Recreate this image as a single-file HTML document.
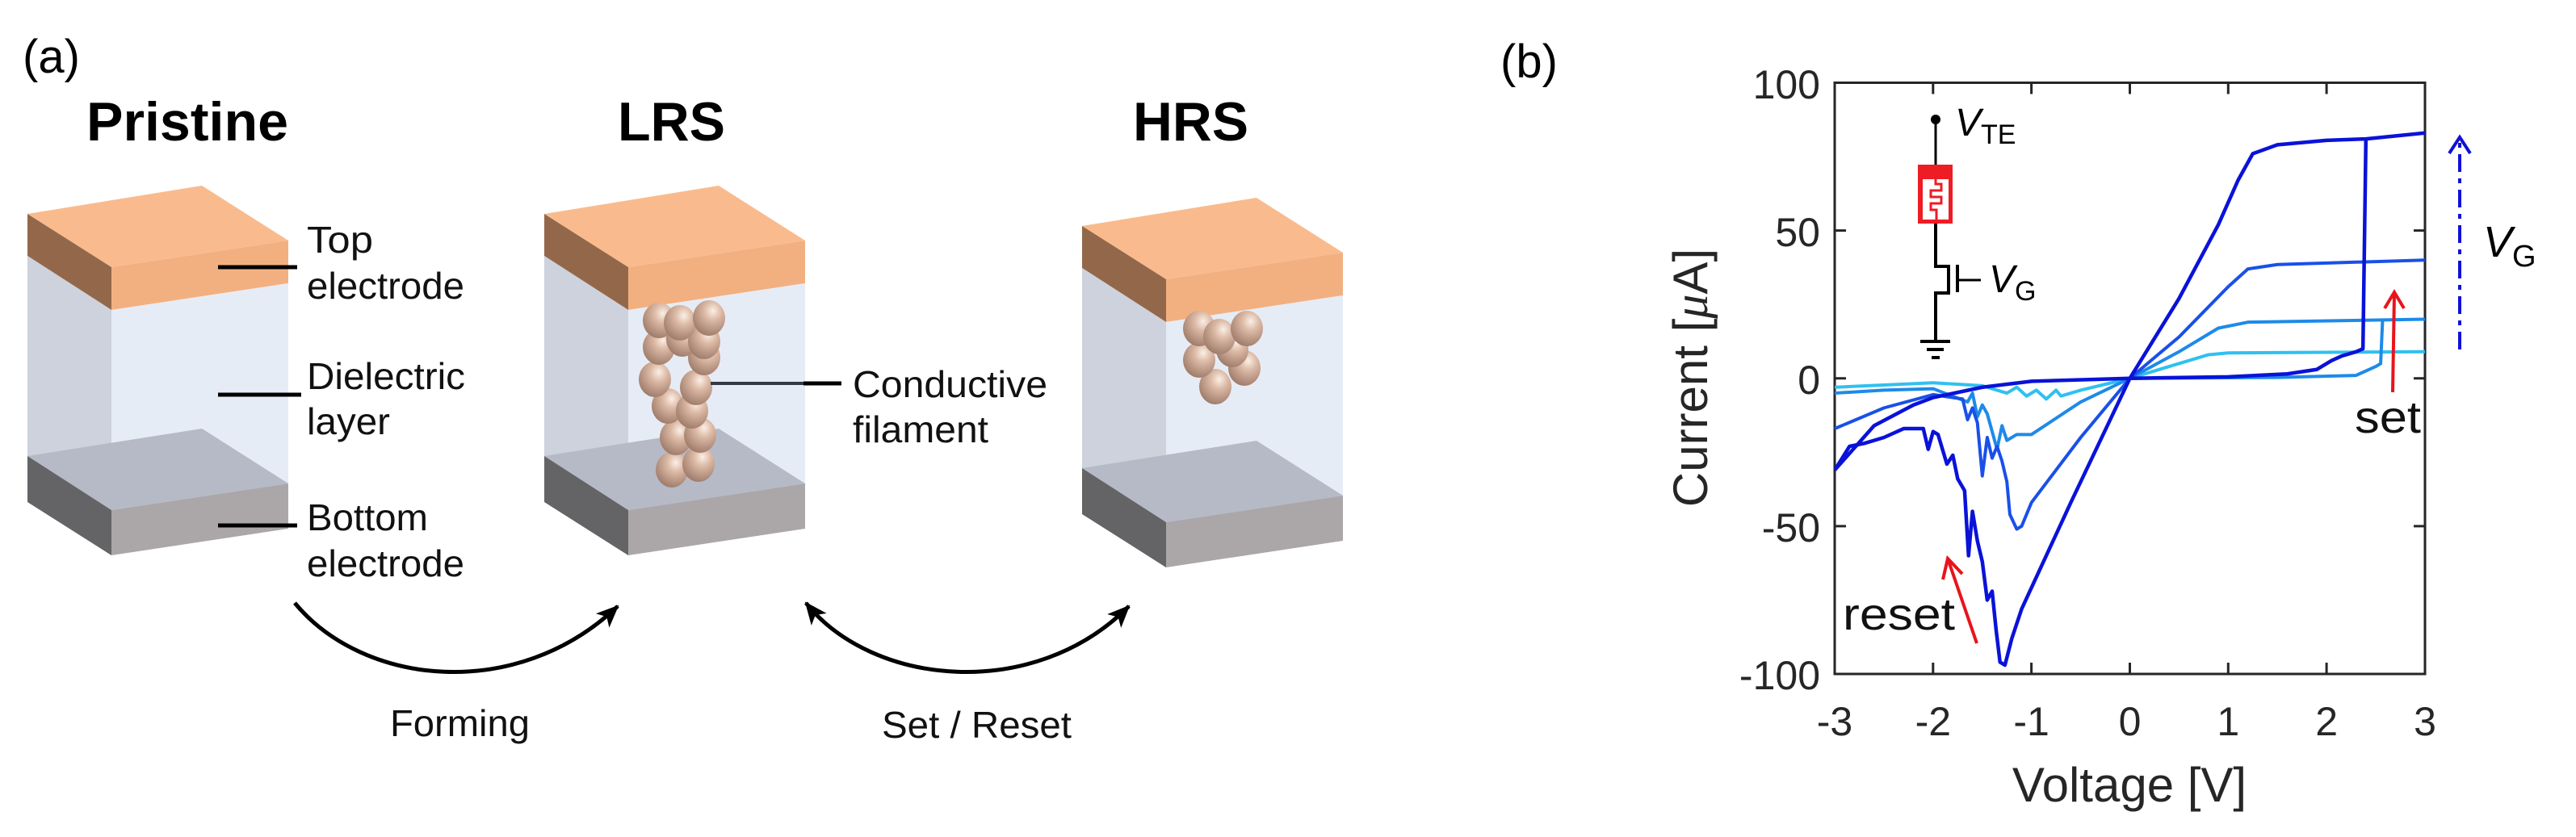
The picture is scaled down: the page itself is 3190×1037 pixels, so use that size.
<!DOCTYPE html>
<html><head><meta charset="utf-8"><style>html,body{margin:0;padding:0;background:#fff}svg{display:block}</style></head>
<body>
<svg width="3190" height="1037" viewBox="0 0 3190 1037" xmlns="http://www.w3.org/2000/svg" font-family="Liberation Sans, sans-serif">
<defs>
<radialGradient id="sp" cx="0.62" cy="0.3" r="0.75">
<stop offset="0" stop-color="#fbefe6"/><stop offset="0.35" stop-color="#dcbaa6"/><stop offset="1" stop-color="#9c7866"/>
</radialGradient>
<g id="blk">
<polygon points="34,265 250,230 357,298 138,331" fill="#f9bb8d"/>
<polygon points="138,331 357,298 357,351 138,384" fill="#f2b081"/>
<polygon points="34,265 138,331 138,384 34,317" fill="#93684a"/>
<polygon points="34,317 138,384 138,632 34,565" fill="#cdd2dc"/>
<polygon points="138,384 357,351 357,599 138,632" fill="#e6ecf6"/>
<polygon points="34,565 250,531 357,599 138,632" fill="#b5bac6"/>
<polygon points="34,565 138,632 138,688 34,622" fill="#646366"/>
<polygon points="138,632 357,599 357,655 138,688" fill="#aba7a9"/>
</g>
<marker id="ahb" markerWidth="30" markerHeight="30" refX="26" refY="15" orient="auto-start-reverse" markerUnits="userSpaceOnUse" viewBox="0 0 30 30"><path d="M0,3 L28,15 L0,27 L7,15 z" fill="#000"/></marker>
</defs>

<text x="28" y="90" font-size="58">(a)</text>
<text x="107" y="174" font-size="68" font-weight="bold" textLength="250" lengthAdjust="spacingAndGlyphs">Pristine</text>
<text x="765" y="174" font-size="68" font-weight="bold" textLength="133" lengthAdjust="spacingAndGlyphs">LRS</text>
<text x="1403" y="174" font-size="68" font-weight="bold" textLength="143" lengthAdjust="spacingAndGlyphs">HRS</text>

<use href="#blk"/>
<use href="#blk" transform="translate(640,0)"/>
<use href="#blk" transform="translate(1306,15)"/>

<g fill="url(#sp)">
<ellipse cx="832" cy="582" rx="20" ry="22"/><ellipse cx="865" cy="575" rx="20" ry="22"/>
<ellipse cx="837" cy="542" rx="20" ry="22"/><ellipse cx="867" cy="539" rx="20" ry="22"/>
<ellipse cx="827" cy="503" rx="20" ry="22"/><ellipse cx="857" cy="509" rx="20" ry="22"/>
<ellipse cx="811" cy="470" rx="20" ry="22"/><ellipse cx="862" cy="480" rx="20" ry="22"/>
<ellipse cx="816" cy="430" rx="20" ry="22"/><ellipse cx="872" cy="443" rx="20" ry="22"/>
<ellipse cx="845" cy="420" rx="20" ry="22"/><ellipse cx="872" cy="423" rx="20" ry="22"/>
<ellipse cx="816" cy="397" rx="20" ry="22"/><ellipse cx="842" cy="400" rx="20" ry="22"/>
<ellipse cx="878" cy="394" rx="20" ry="22"/>
</g>
<g fill="url(#sp)">
<ellipse cx="1505" cy="479" rx="20" ry="22"/><ellipse cx="1541" cy="456" rx="20" ry="22"/>
<ellipse cx="1485" cy="446" rx="20" ry="22"/><ellipse cx="1526" cy="433" rx="20" ry="22"/>
<ellipse cx="1485" cy="407" rx="20" ry="22"/><ellipse cx="1510" cy="417" rx="20" ry="22"/>
<ellipse cx="1544" cy="407" rx="20" ry="22"/>
</g>

<g stroke="#000" stroke-width="5">
<line x1="270" y1="331" x2="368" y2="331"/>
<line x1="270" y1="489" x2="373" y2="489"/>
<line x1="270" y1="651" x2="368" y2="651"/>
<line x1="880" y1="475" x2="995" y2="475" stroke="#333a44" stroke-width="4"/>
<line x1="995" y1="475" x2="1042" y2="475"/>
</g>
<g font-size="46" fill="#111">
<text x="380" y="313" textLength="82" lengthAdjust="spacingAndGlyphs">Top</text>
<text x="380" y="370" textLength="195" lengthAdjust="spacingAndGlyphs">electrode</text>
<text x="380" y="482" textLength="196" lengthAdjust="spacingAndGlyphs">Dielectric</text>
<text x="380" y="538" textLength="103" lengthAdjust="spacingAndGlyphs">layer</text>
<text x="380" y="657" textLength="150" lengthAdjust="spacingAndGlyphs">Bottom</text>
<text x="380" y="714" textLength="195" lengthAdjust="spacingAndGlyphs">electrode</text>
<text x="1056" y="492" textLength="241" lengthAdjust="spacingAndGlyphs">Conductive</text>
<text x="1056" y="548" textLength="168" lengthAdjust="spacingAndGlyphs">filament</text>
<text x="483" y="912" textLength="173" lengthAdjust="spacingAndGlyphs">Forming</text>
<text x="1092" y="914" textLength="235" lengthAdjust="spacingAndGlyphs">Set / Reset</text>
</g>

<path d="M365,747 C450,850 640,870 765,751" fill="none" stroke="#000" stroke-width="5" marker-end="url(#ahb)"/>
<path d="M998,747 C1080,850 1280,870 1398,751" fill="none" stroke="#000" stroke-width="5" marker-start="url(#ahb)" marker-end="url(#ahb)"/>

<text x="1858" y="96" font-size="58">(b)</text>

<g stroke="#262626" stroke-width="3" fill="none">
<rect x="2272" y="102.5" width="731" height="732.5"/>
<path d="M2393.8,835v-14M2515.6,835v-14M2637.5,835v-14M2759.3,835v-14M2881.1,835v-14M2393.8,102.5v14M2515.6,102.5v14M2637.5,102.5v14M2759.3,102.5v14M2881.1,102.5v14"/>
<path d="M2272,285.6h14M2272,468.75h14M2272,651.9h14M2989,285.6h14M2989,468.75h14M2989,651.9h14"/>
</g>
<g font-size="50" fill="#262626" text-anchor="end">
<text x="2254" y="122">100</text>
<text x="2254" y="305">50</text>
<text x="2254" y="488">0</text>
<text x="2254" y="671">-50</text>
<text x="2254" y="854">-100</text>
</g>
<g font-size="50" fill="#262626" text-anchor="middle">
<text x="2272" y="911">-3</text>
<text x="2393.8" y="911">-2</text>
<text x="2515.6" y="911">-1</text>
<text x="2637.5" y="911">0</text>
<text x="2759.3" y="911">1</text>
<text x="2881.1" y="911">2</text>
<text x="3003" y="911">3</text>
<text x="2637" y="993" font-size="60">Voltage [V]</text>
<text transform="translate(2114,468) rotate(-90)" font-size="60">Current [<tspan font-family="Liberation Serif, serif" font-style="italic">μ</tspan>A]</text>
</g>

<g transform="translate(2637.5,468.75) scale(121.8,-3.6625)" fill="none" stroke-linejoin="round">
<g stroke="#30c0f0" stroke-width="4">
<polyline vector-effect="non-scaling-stroke" points="0,0 0.4,4 0.8,8 1,8.6 3,9"/>
<polyline vector-effect="non-scaling-stroke" points="0,0 -0.5,-4 -0.7,-6 -0.75,-4 -0.85,-7 -0.95,-4 -1.05,-6 -1.15,-3 -1.25,-5 -1.5,-2.5 -2,-1.5 -3,-3"/>
</g>
<g stroke="#1e8ae8" stroke-width="4">
<polyline vector-effect="non-scaling-stroke" points="0,0 0.5,9 0.9,17 1.2,19 3,20"/>
<polyline vector-effect="non-scaling-stroke" points="0,0 1.5,0.3 2.3,1 2.5,4 2.55,5 2.57,20"/>
<polyline vector-effect="non-scaling-stroke" points="0,0 -0.5,-8 -1,-19 -1.15,-19 -1.25,-21 -1.3,-16 -1.35,-24 -1.45,-12 -1.5,-9 -1.55,-13 -1.6,-5 -1.65,-8 -2,-3.5 -2.5,-4 -3,-5"/>
</g>
<g stroke="#1a50e8" stroke-width="4">
<polyline vector-effect="non-scaling-stroke" points="0,0 0.5,14 1,31 1.2,37 1.5,38.5 3,40"/>
<polyline vector-effect="non-scaling-stroke" points="0,0 -0.5,-20 -1,-42 -1.1,-50 -1.15,-51 -1.22,-46 -1.25,-35 -1.3,-28 -1.35,-23 -1.4,-27 -1.45,-20 -1.5,-33 -1.55,-15 -1.6,-10 -1.65,-14 -1.7,-7 -2,-5.5 -2.5,-10 -3,-17"/>
</g>
<g stroke="#0a12d8" stroke-width="4.5">
<polyline vector-effect="non-scaling-stroke" points="0,0 0.5,27 0.9,52 1.1,67 1.25,76 1.5,79 2,80.5 2.4,81 3,83"/>
<polyline vector-effect="non-scaling-stroke" points="0,0 1,0.5 1.6,1.5 1.9,3 2.05,6 2.15,7.5 2.3,9 2.37,10 2.4,81"/>
<polyline vector-effect="non-scaling-stroke" points="0,0 -0.6,-42 -1.1,-78 -1.2,-88 -1.27,-97 -1.32,-96 -1.36,-85 -1.4,-72 -1.45,-75 -1.5,-62 -1.55,-55 -1.6,-45 -1.64,-60 -1.68,-38 -1.75,-34 -1.8,-26 -1.86,-29 -1.95,-19 -2,-18 -2.05,-24 -2.1,-17 -2.3,-17 -2.5,-20 -2.7,-22 -2.85,-23 -3,-31"/>
<polyline vector-effect="non-scaling-stroke" points="-3,-31 -2.6,-16 -2.2,-9 -2,-6.5 -1.5,-3 -1,-1 0,0"/>
</g>
</g>

<g stroke="#000" stroke-width="3" fill="none">
<line x1="2397" y1="148" x2="2397" y2="205"/>
<polyline points="2397,277 2397,330 2413,330 2413,363 2397,363 2397,423" stroke-width="4"/>
<line x1="2424" y1="328" x2="2424" y2="362" stroke-width="4"/>
<line x1="2424" y1="347" x2="2453" y2="347"/>
<line x1="2378" y1="423" x2="2415" y2="423" stroke-width="4"/>
<line x1="2386" y1="433" x2="2407" y2="433" stroke-width="4"/>
<line x1="2392" y1="443" x2="2402" y2="443" stroke-width="4"/>
</g>
<circle cx="2397" cy="148" r="6" fill="#000"/>
<rect x="2375" y="204" width="43" height="73" fill="#ee1c24"/>
<rect x="2381" y="222" width="32" height="50" fill="#fff"/>
<path d="M2397,222 v6 h7 v8 h-13 v8 h13 v8 h-13 v8 h7 v12" fill="none" stroke="#ee1c24" stroke-width="3"/>
<text x="2421" y="168" font-size="48" font-style="italic">V<tspan font-style="normal" font-size="34" dy="10">TE</tspan></text>
<text x="2463" y="362" font-size="48" font-style="italic">V<tspan font-style="normal" font-size="34" dy="10">G</tspan></text>
<text x="3075" y="318" font-size="54" font-style="italic">V<tspan font-style="normal" font-size="38" dy="12">G</tspan></text>

<line x1="3046" y1="433" x2="3046" y2="172" stroke="#1010d8" stroke-width="4" stroke-dasharray="22,8,6,8"/>
<polyline points="3033,190 3046,170 3059,190" fill="none" stroke="#1010d8" stroke-width="4"/>

<line x1="2963" y1="486" x2="2965" y2="364" stroke="#e8141c" stroke-width="4"/>
<polyline points="2953,382 2965,362 2977,382" fill="none" stroke="#e8141c" stroke-width="4"/>
<line x1="2448" y1="797" x2="2413" y2="695" stroke="#e8141c" stroke-width="4"/>
<polyline points="2406,718 2412,692 2430,711" fill="none" stroke="#e8141c" stroke-width="4"/>
<text x="2916" y="536" font-size="56" fill="#111" textLength="82" lengthAdjust="spacingAndGlyphs">set</text>
<text x="2282" y="780" font-size="56" fill="#111" textLength="139" lengthAdjust="spacingAndGlyphs">reset</text>
</svg>
</body></html>
